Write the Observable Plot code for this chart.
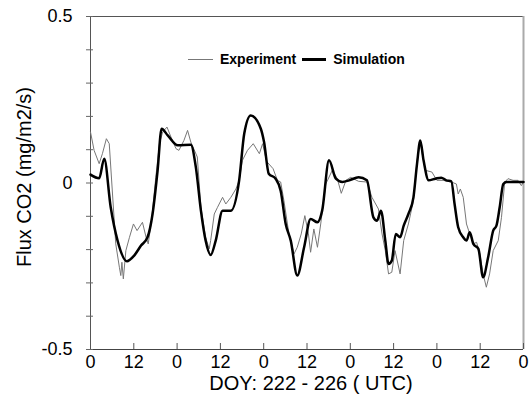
<!DOCTYPE html>
<html>
<head>
<meta charset="utf-8">
<script src="https://cdn.jsdelivr.net/npm/d3@7"></script>
<script src="https://cdn.jsdelivr.net/npm/@observablehq/plot@0.6"></script>
<style>
  html, body { margin: 0; padding: 0; background: #fff; }
  #wrap { position: relative; width: 529px; height: 400px; font-family: "Liberation Sans", Arial, sans-serif; }
  #legend { position: absolute; left: 188px; top: 51px; display: flex; align-items: center; font-weight: bold; font-size: 14px; color: #000; }
  .sw { display: inline-block; }
</style>
</head>
<body>
<div id="wrap"></div>
<script>
// ---- data (hours since DOY 222 00:00 UTC, CO2 flux mg/m2/s) ----
const seriesNames = ["Experiment", "Simulation"];
const hoursSim = [0.0,2.4,3.8,5.6,7.5,10.1,12.1,14.0,15.8,17.2,18.6,19.7,21.4,24.2,27.8,29.2,30.6,31.9,33.3,34.7,36.6,38.9,41.2,42.6,44.4,47.2,48.1,49.4,51.3,52.7,54.1,55.5,57.3,59.2,61.0,62.9,64.2,66.1,68.0,69.8,71.7,74.3,76.6,78.4,79.4,80.5,81.7,82.6,83.5,84.6,85.8,86.8,88.1,89.5,90.5,91.4,92.3,93.7,95.6,97.2,98.6,100.0,100.9,101.9,103.3,104.2,105.1,106.1,107.5,108.8,110.2,111.6,112.5,113.4,114.4,115.3,118.1,120.0];
const fluxSim = [0.025,0.014,0.073,-0.073,-0.173,-0.235,-0.218,-0.188,-0.163,-0.093,0.038,0.163,0.143,0.113,0.115,0.047,-0.083,-0.173,-0.216,-0.173,-0.083,-0.083,0.008,0.148,0.203,0.163,0.123,0.028,0.013,-0.023,-0.123,-0.173,-0.278,-0.193,-0.108,-0.118,-0.083,0.068,0.013,0.003,0.008,0.017,0.008,-0.103,-0.113,-0.083,-0.173,-0.243,-0.233,-0.153,-0.163,-0.128,-0.093,-0.043,0.058,0.128,0.068,0.008,0.013,0.016,0.008,0.005,-0.063,-0.133,-0.163,-0.173,-0.148,-0.183,-0.198,-0.283,-0.223,-0.143,-0.128,-0.073,-0.003,0.003,0.003,0.003];
const hoursExp = [0,1.0,2.4,3.3,4.4,5.2,6.1,7.0,8.0,8.4,8.7,9.1,9.8,10.8,11.9,12.9,14.4,15.4,16.0,16.9,18.1,19.1,20.0,21.2,22.3,23.7,24.5,25.9,26.9,27.8,29.6,30.6,31.9,32.9,33.3,34.3,35.2,36.6,37.5,38.9,40.3,41.2,42.1,43.5,45.1,46.8,47.7,48.8,50.6,51.8,52.7,53.6,55.0,56.4,57.3,58.4,59.4,60.4,61.0,61.9,62.9,63.8,65.2,67.0,68.4,69.5,70.8,72.1,74.3,76.6,78.0,79.8,80.8,81.7,82.6,83.5,84.4,85.8,86.8,88.1,89.5,90.5,91.4,92.8,94.6,96.0,97.7,100.0,101.4,101.9,102.5,103.3,104.2,105.1,106.1,107.0,107.9,108.8,109.7,110.6,111.6,113.0,113.9,114.8,115.7,117.1,118.5,119.4,120];
const fluxExp = [0.153,0.098,0.058,0.088,0.133,0.118,-0.033,-0.183,-0.253,-0.278,-0.238,-0.288,-0.203,-0.163,-0.123,-0.143,-0.118,-0.163,-0.183,-0.113,0.017,0.118,0.153,0.168,0.138,0.103,0.098,0.128,0.158,0.123,0.078,-0.073,-0.163,-0.198,-0.173,-0.093,-0.073,-0.043,-0.063,-0.043,-0.018,0.008,0.068,0.098,0.118,0.088,0.118,0.065,0.043,0.008,0.003,-0.053,-0.153,-0.213,-0.193,-0.153,-0.098,-0.153,-0.208,-0.138,-0.193,-0.123,-0.003,0.038,0.013,-0.031,0.008,0.017,0.005,0.003,-0.043,-0.078,-0.153,-0.203,-0.273,-0.268,-0.203,-0.273,-0.173,-0.123,-0.053,0.068,0.118,0.038,0.033,0.008,0.008,0.003,-0.003,-0.033,-0.018,-0.043,-0.123,-0.153,-0.183,-0.178,-0.213,-0.273,-0.313,-0.273,-0.203,-0.173,-0.103,0.003,0.013,0.008,0.008,-0.008,0.003];
const xTicks = [0,12,24,36,48,60,72,84,96,108,120];
const xTickLabels = ["0","12","0","12","0","12","0","12","0","12","0"];
const yTicks = [-0.5,-0.4,-0.3,-0.2,-0.1,0,0.1,0.2,0.3,0.4,0.5];
const yTickLabels = ["-0.5","","","","","0","","","","","0.5"];
const xLabel = "DOY: 222 - 226 ( UTC)";
const yLabel = "Flux CO2 (mg/m2/s)";

const simData = hoursSim.map((h, i) => ({h, v: fluxSim[i]}));
const expData = hoursExp.map((h, i) => ({h, v: fluxExp[i]}));

const chart = Plot.plot({
  width: 529,
  height: 400,
  marginLeft: 90,
  marginRight: 6,
  marginTop: 16,
  marginBottom: 51,
  x: {domain: [0, 120]},
  y: {domain: [-0.5, 0.5]},
  style: {fontFamily: "'Liberation Sans', Arial, sans-serif", background: "#fff", color: "#000"},
  marks: [
    Plot.ruleY([0.5], {stroke: "#555"}),
    Plot.ruleX([120], {stroke: "#aaa", strokeWidth: 2}),
    Plot.ruleX([0], {stroke: "#555"}),
    Plot.ruleY([-0.5], {stroke: "#444"}),
    Plot.tickY(yTicks, {y: d => d, insetRight: 430, stroke: "#666"}),
    Plot.tickX(xTicks, {x: d => d, insetTop: 327, stroke: "#555"}),
    Plot.axisY({ticks: yTicks, tickSize: 4, tickPadding: 14, stroke: "#666",
      tickFormat: d => yTickLabels[yTicks.findIndex(t => Math.abs(t - d) < 1e-9)],
      fontSize: 18, label: null}),
    Plot.axisX({ticks: xTicks, tickSize: 0, tickPadding: 6,
      tickFormat: d => xTickLabels[xTicks.indexOf(d)], fontSize: 18, label: null}),
    Plot.line(expData, {x: "h", y: "v", stroke: "#777", strokeWidth: 1}),
    Plot.line(simData, {x: "h", y: "v", stroke: "#000", strokeWidth: 2.5, strokeLinejoin: "round", curve: "monotone-x"}),
    Plot.text([xLabel], {text: d => d, frameAnchor: "bottom", textAnchor: "middle", lineAnchor: "middle", dy: 34, dx: 4, fontSize: 20, fill: "#000"}),
    Plot.text([yLabel], {text: d => d, frameAnchor: "left", textAnchor: "middle", lineAnchor: "middle", rotate: -90, dx: -66, dy: -6, fontSize: 20, fill: "#000"})
  ]
});

const wrap = document.getElementById("wrap");
wrap.appendChild(chart);

const legend = document.createElement("div");
legend.id = "legend";
const styles = [
  {color: "#777", w: 25, t: 1, gapL: 0},
  {color: "#000", w: 24, t: 3, gapL: 6}
];
seriesNames.forEach((name, i) => {
  const sw = document.createElement("span");
  sw.className = "sw";
  sw.style.width = styles[i].w + "px";
  sw.style.height = styles[i].t + "px";
  sw.style.background = styles[i].color;
  sw.style.marginLeft = styles[i].gapL + "px";
  sw.style.marginRight = "7px";
  const tx = document.createElement("span");
  tx.textContent = name;
  legend.appendChild(sw);
  legend.appendChild(tx);
});
wrap.appendChild(legend);
</script>
</body>
</html>
